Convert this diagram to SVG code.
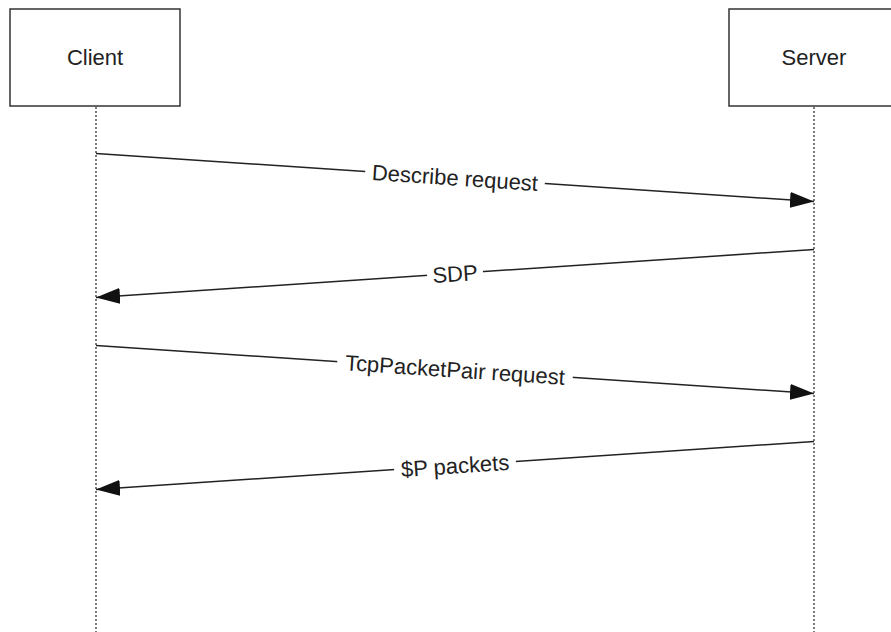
<svg xmlns="http://www.w3.org/2000/svg" width="891" height="632" viewBox="0 0 891 632">
  <style>
    .box { fill: #ffffff; stroke: #333333; stroke-width: 1.5; }
    .life { stroke: #333333; stroke-width: 1.3; stroke-dasharray: 2 2; fill: none; }
    .msg { stroke: #222222; stroke-width: 1.5; fill: none; marker-end: url(#arrow); }
    .lbl { font-family: "Liberation Sans", Arial, sans-serif; font-size: 22px; fill: #222222; text-anchor: middle; }
    .bg { fill: #ffffff; stroke: none; }
  </style>
  <defs>
    <marker id="arrow" markerUnits="userSpaceOnUse" markerWidth="24" markerHeight="16" refX="24" refY="8" orient="auto">
      <path d="M0,0 L24,8 L0,16 z" fill="#111111"/>
    </marker>
  </defs>
  <rect width="891" height="632" fill="#ffffff"/>

  <g id="client">
    <rect class="box" x="10" y="9" width="170" height="97"/>
    <text class="lbl" x="95" y="65">Client</text>
    <line class="life" x1="96" y1="107" x2="96" y2="632"/>
  </g>

  <g id="server">
    <rect class="box" x="729" y="9" width="172" height="97"/>
    <text class="lbl" x="814" y="65">Server</text>
    <line class="life" x1="814" y1="107" x2="814" y2="632"/>
  </g>

  <g id="connectors">
    <g id="msg1">
      <line class="msg" x1="96" y1="153.5" x2="814" y2="201.5"/>
      <g transform="translate(455,177.5) rotate(3.825)">
        <rect class="bg" x="-90" y="-11" width="180" height="20"/>
        <text class="lbl" x="0" y="8">Describe request</text>
      </g>
    </g>
    <g id="msg2">
      <line class="msg" x1="814" y1="249.5" x2="96" y2="297.5"/>
      <g transform="translate(455,273.5) rotate(-3.825)">
        <rect class="bg" x="-28" y="-11" width="56" height="20"/>
        <text class="lbl" x="0" y="8">SDP</text>
      </g>
    </g>
    <g id="msg3">
      <line class="msg" x1="96" y1="345.5" x2="814" y2="393.5"/>
      <g transform="translate(455,369.5) rotate(3.825)">
        <rect class="bg" x="-118" y="-11" width="236" height="20"/>
        <text class="lbl" x="0" y="8">TcpPacketPair request</text>
      </g>
    </g>
    <g id="msg4">
      <line class="msg" x1="814" y1="441.5" x2="96" y2="489.5"/>
      <g transform="translate(455,465.5) rotate(-3.825)">
        <rect class="bg" x="-61" y="-11" width="122" height="20"/>
        <text class="lbl" x="0" y="8">$P packets</text>
      </g>
    </g>
  </g>
</svg>
